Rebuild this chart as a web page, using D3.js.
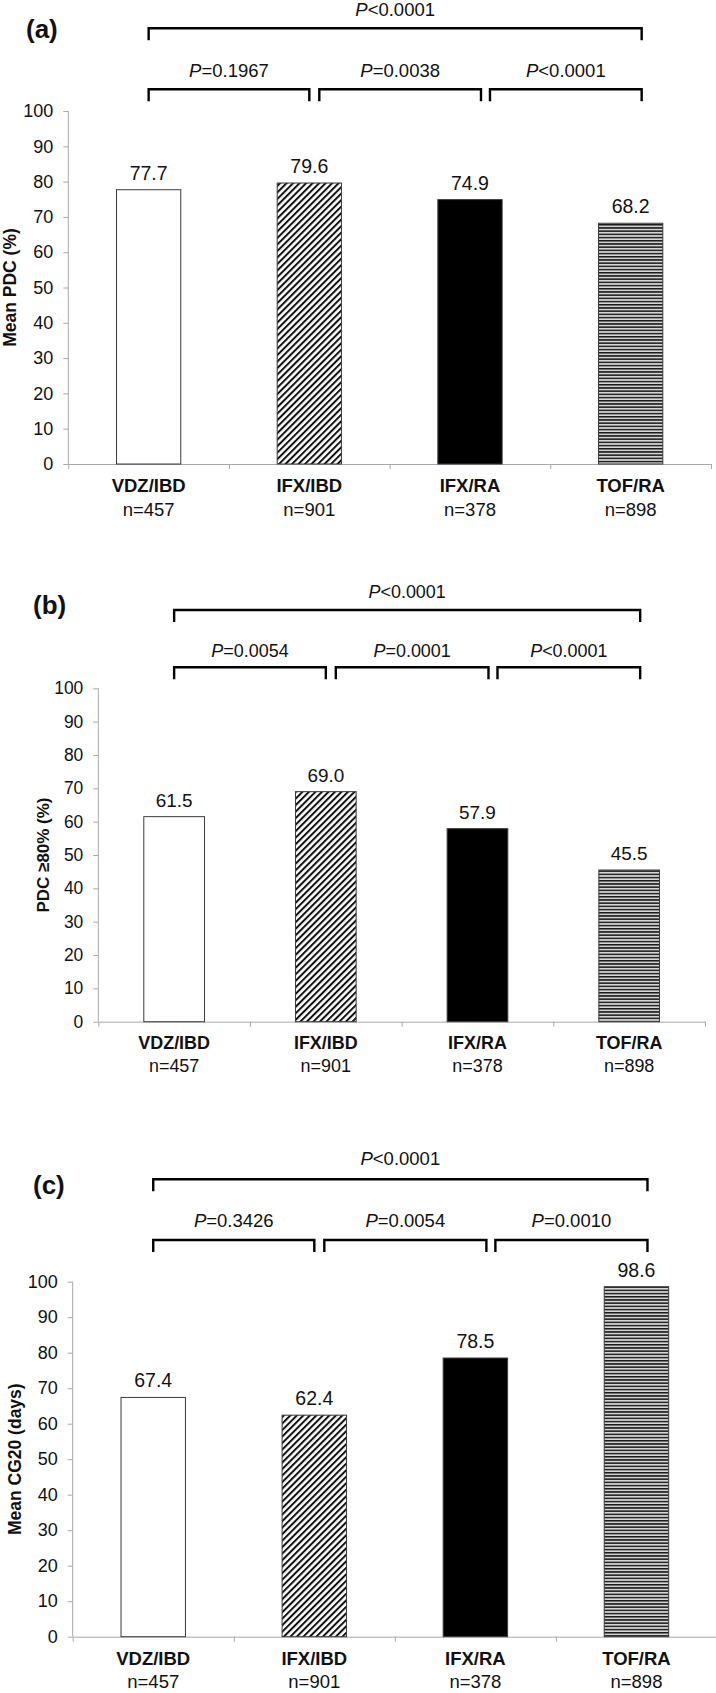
<!DOCTYPE html>
<html><head><meta charset="utf-8">
<script src="https://cdn.jsdelivr.net/npm/d3@7"></script>
<style>
body{margin:0;background:#fff}
svg{display:block}
text{font-family:"Liberation Sans",Arial,Helvetica,sans-serif;fill:#111}
</style>
</head><body><svg id="chart" width="716" height="1693"></svg>
<script>
// ---- data ----
const categories = ["VDZ/IBD", "IFX/IBD", "IFX/RA", "TOF/RA"];
const sampleSizes = ["n=457", "n=901", "n=378", "n=898"];
const meanPDC = [77.7, 79.6, 74.9, 68.2];
const pdcAtLeast80 = [61.5, 69.0, 57.9, 45.5];
const meanCG20 = [67.4, 62.4, 78.5, 98.6];
const yTicks = [0, 10, 20, 30, 40, 50, 60, 70, 80, 90, 100];
const pOverallA = "P<0.0001", pPairsA = ["P=0.1967", "P=0.0038", "P<0.0001"];
const pOverallB = "P<0.0001", pPairsB = ["P=0.0054", "P=0.0001", "P<0.0001"];
const pOverallC = "P<0.0001", pPairsC = ["P=0.3426", "P=0.0054", "P=0.0010"];
const yTitles = ["Mean PDC (%)", "PDC \u226580% (%)", "Mean CG20 (days)"];
const panelLabels = ["(a)", "(b)", "(c)"];

// ---- layout ----
const layouts = [
  {x0: 68.3, x1: 711, yTop: 111, yBot: 464, labelX: 26, labelY: 38, titleX: 16,
   topBY: 28.3, lowBY: 89.3, topPY: 15.7, lowPY: 77.3, fs: 1},
  {x0: 98.3, x1: 705, yTop: 688.3, yBot: 1021.7, labelX: 33, labelY: 614, titleX: 49,
   topBY: 610, lowBY: 667.3, topPY: 598, lowPY: 656.5, fs: 0.97},
  {x0: 72.7, x1: 717, yTop: 1281.7, yBot: 1636.7, labelX: 33, labelY: 1194, titleX: 21,
   topBY: 1179.3, lowBY: 1240, topPY: 1165, lowPY: 1226.7, fs: 1}
];
const panelValues = [meanPDC, pdcAtLeast80, meanCG20];
const panelPairs = [pPairsA, pPairsB, pPairsC];
const panelOverall = [pOverallA, pOverallB, pOverallC];
// bracket spans: [from cat, offset, to cat, offset]
const pairSpans = [[0, 0, 1, 0], [1, 10, 2, 11], [2, 20, 3, 11]];
const overallSpan = [0, 0, 3, 11];
const bracketDrop = 12;

const svg = d3.select("#chart");
const defs = svg.append("defs");
const diag = defs.append("pattern").attr("id", "diag").attr("patternUnits", "userSpaceOnUse")
  .attr("width", 4.6).attr("height", 4.6).attr("patternTransform", "rotate(45)");
diag.append("rect").attr("width", 4.6).attr("height", 4.6).attr("fill", "#fff");
diag.append("rect").attr("width", 2).attr("height", 4.6).attr("fill", "#111");
const horiz = defs.append("pattern").attr("id", "horiz").attr("patternUnits", "userSpaceOnUse")
  .attr("width", 6).attr("height", 3.2);
horiz.append("rect").attr("width", 6).attr("height", 3.2).attr("fill", "#d4d4d4");
horiz.append("rect").attr("width", 6).attr("height", 1.5).attr("fill", "#1a1a1a");
const fills = ["#ffffff", "url(#diag)", "#000000", "url(#horiz)"];

function pText(sel, s) {
  sel.append("tspan").style("font-style", "italic").text(s.charAt(0));
  sel.append("tspan").text(s.slice(1));
}

layouts.forEach((L, pi) => {
  const g = svg.append("g");
  const vals = panelValues[pi];
  const x = d3.scaleBand().domain(categories).range([L.x0, L.x1]).paddingInner(0.6).paddingOuter(0.3);
  const y = d3.scaleLinear().domain([0, 100]).range([L.yBot, L.yTop]);
  const cx = i => x(categories[i]) + x.bandwidth() / 2;
  const sep = d3.scaleLinear().domain([0, 4]).range([L.x0, L.x1]);

  // y axis
  const ya = g.append("g").attr("transform", `translate(${L.x0},0)`)
    .call(d3.axisLeft(y).tickValues(yTicks).tickSize(5).tickSizeOuter(0).tickPadding(10));
  ya.selectAll("path,line").attr("stroke", "#a8a8a8");
  ya.selectAll("text").style("font-size", (18 * L.fs) + "px").attr("fill", "#111");
  ya.select(".domain").attr("d", `M0,${L.yBot}V${L.yTop}`);

  // x axis
  const xa = g.append("g").attr("transform", `translate(0,${L.yBot})`)
    .call(d3.axisBottom(sep).tickValues([0, 1, 2, 3, 4]).tickFormat("").tickSize(5).tickSizeOuter(0));
  xa.selectAll("path,line").attr("stroke", "#a8a8a8");

  // bars
  g.selectAll("rect.bar").data(vals).enter().append("rect").attr("class", "bar")
    .attr("x", (d, i) => x(categories[i]))
    .attr("width", x.bandwidth())
    .attr("y", d => y(d))
    .attr("height", d => y(0) - y(d))
    .attr("fill", (d, i) => fills[i])
    .attr("stroke", "#3a3a3a").attr("stroke-width", 1);

  // value labels
  g.selectAll("text.val").data(vals).enter().append("text").attr("class", "val")
    .attr("x", (d, i) => cx(i)).attr("y", d => y(d) - 10)
    .attr("text-anchor", "middle").style("font-size", (19.5 * L.fs) + "px")
    .text(d => d.toFixed(1));

  // category labels
  g.selectAll("text.cat").data(categories).enter().append("text").attr("class", "cat")
    .attr("x", (d, i) => cx(i)).attr("y", L.yBot + 28 * L.fs)
    .attr("text-anchor", "middle").style("font-size", (18.5 * L.fs) + "px").style("font-weight", "bold")
    .text(d => d);
  g.selectAll("text.n").data(sampleSizes).enter().append("text").attr("class", "n")
    .attr("x", (d, i) => cx(i)).attr("y", L.yBot + 51.7 * L.fs)
    .attr("text-anchor", "middle").style("font-size", (18.5 * L.fs) + "px")
    .text(d => d);

  // y title
  g.append("text")
    .attr("transform", `translate(${L.titleX},${(L.yTop + L.yBot) / 2}) rotate(-90)`)
    .attr("text-anchor", "middle").style("font-size", (17.5 * L.fs) + "px").style("font-weight", "bold")
    .text(yTitles[pi]);

  // panel label
  g.append("text").attr("x", L.labelX).attr("y", L.labelY)
    .style("font-size", "26px").style("font-weight", "bold").text(panelLabels[pi]);

  // brackets
  const bracket = (span, by) => {
    const xl = cx(span[0]) + span[1], xr = cx(span[2]) + span[3];
    g.append("path").attr("d", `M${xl},${by + bracketDrop}V${by}H${xr}V${by + bracketDrop}`)
      .attr("fill", "none").attr("stroke", "#000").attr("stroke-width", 2.4);
    return (xl + xr) / 2;
  };
  const mTop = bracket(overallSpan, L.topBY);
  pText(g.append("text").attr("x", mTop).attr("y", L.topPY).attr("text-anchor", "middle")
    .style("font-size", (18.5 * L.fs) + "px"), panelOverall[pi]);
  pairSpans.forEach((sp, k) => {
    const m = bracket(sp, L.lowBY);
    pText(g.append("text").attr("x", m).attr("y", L.lowPY).attr("text-anchor", "middle")
      .style("font-size", (18.5 * L.fs) + "px"), panelPairs[pi][k]);
  });
});
</script>
</body></html>
